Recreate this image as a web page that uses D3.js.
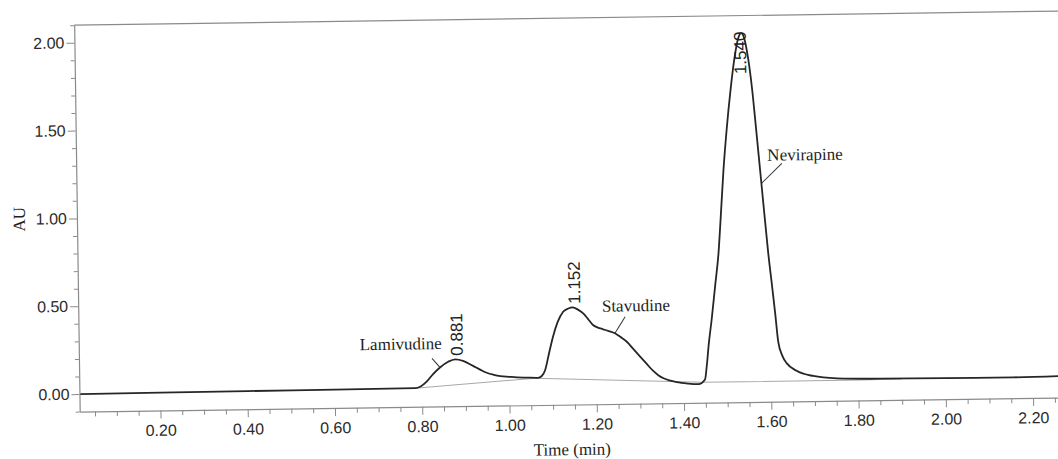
<!DOCTYPE html>
<html>
<head>
<meta charset="utf-8">
<script src="https://cdn.jsdelivr.net/npm/d3@7"></script>
<style>
  html, body { margin: 0; padding: 0; background: #fff; }
  svg { display: block; }
</style>
</head>
<body>
<div id="chart"></div>
<script>
// chromatogram trace (time in min, absorbance in AU)
const time = [
  0.017, 0.20, 0.40, 0.60, 0.784, 0.797, 0.811, 0.826, 0.842, 0.861, 0.877, 0.895,
  0.918, 0.935, 0.949, 0.965, 0.980, 1.000, 1.018, 1.040, 1.066, 1.075, 1.083, 1.092,
  1.102, 1.113, 1.126, 1.138, 1.148, 1.160, 1.172, 1.183, 1.194, 1.205, 1.217, 1.230,
  1.244, 1.257, 1.271, 1.286, 1.301, 1.316, 1.330, 1.342, 1.354, 1.370, 1.384, 1.410,
  1.434, 1.449, 1.453, 1.459, 1.466, 1.475, 1.484, 1.491, 1.498, 1.507, 1.517, 1.527,
  1.536, 1.543, 1.550, 1.558, 1.566, 1.574, 1.582, 1.590, 1.598, 1.606, 1.612, 1.618,
  1.627, 1.637, 1.659, 1.697, 1.751, 1.850, 2.000, 2.155, 2.270
];
const absorbance = [
  0.000, 0.001, 0.003, 0.004, 0.006, 0.015, 0.042, 0.085, 0.122, 0.154, 0.167, 0.158,
  0.128, 0.105, 0.088, 0.076, 0.068, 0.063, 0.059, 0.057, 0.055, 0.065, 0.099, 0.190,
  0.288, 0.370, 0.429, 0.447, 0.453, 0.440, 0.418, 0.385, 0.351, 0.336, 0.326, 0.315,
  0.302, 0.280, 0.253, 0.210, 0.167, 0.125, 0.086, 0.060, 0.042, 0.028, 0.019, 0.010,
  0.006, 0.032, 0.100, 0.240, 0.370, 0.560, 0.750, 0.980, 1.220, 1.460, 1.680, 1.860,
  1.970, 2.000, 1.970, 1.860, 1.690, 1.460, 1.220, 0.980, 0.745, 0.550, 0.400, 0.240,
  0.160, 0.117, 0.074, 0.043, 0.028, 0.022, 0.020, 0.019, 0.023
];

// integration baselines drawn under the peaks
const baselines = [
  [[0.784, 0.006], [1.060, 0.053]],
  [[1.060, 0.053], [1.442, 0.016]],
  [[1.442, 0.016], [1.804, 0.016], [1.900, 0.018]]
];

const peakTimes = [0.881, 1.152, 1.540];
const peakHeights = [0.167, 0.453, 2.000];

const compounds = ["Lamivudine", "Stavudine", "Nevirapine"];
const compoundAnchor = ["end", "start", "start"];
const compoundLabelAt = [[0.847, 0.227], [1.215, 0.426], [1.599, 1.272]];
const leaderFrom = [[0.824, 0.174], [1.268, 0.396], [1.632, 1.256]];
const leaderTo = [[0.842, 0.122], [1.244, 0.302], [1.585, 1.144]];

const xTicks = [0.20, 0.40, 0.60, 0.80, 1.00, 1.20, 1.40, 1.60, 1.80, 2.00, 2.20];
const xMinor = [0.05, 0.10, 0.15, 0.25, 0.30, 0.35, 0.45, 0.50, 0.55, 0.65, 0.70, 0.75,
  0.85, 0.90, 0.95, 1.05, 1.10, 1.15, 1.25, 1.30, 1.35, 1.45, 1.50, 1.55, 1.65, 1.70,
  1.75, 1.85, 1.90, 1.95, 2.05, 2.10, 2.15, 2.25];
const yTicks = [0.00, 0.50, 1.00, 1.50, 2.00];
const yMinor = [-0.10, 0.10, 0.20, 0.30, 0.40, 0.60, 0.70, 0.80, 0.90, 1.10, 1.20, 1.30,
  1.40, 1.60, 1.70, 1.80, 1.90, 2.10];

const W = 1058, H = 459;
const margin = { top: 18.5, left: 77 };
const width = 984;
const height = 386.5;
const sans = "'Liberation Sans', Arial, Helvetica, sans-serif";
const serif = "'Liberation Serif', 'Times New Roman', Times, serif";

const svg = d3.select("#chart")
  .append("svg")
  .attr("width", W)
  .attr("height", H);

// the original is a slightly tilted scan, so the whole figure is turned a little
const page = svg.append("g").attr("transform", "rotate(-0.82 540 220)");

const plot = page.append("g")
  .attr("transform", "translate(" + margin.left + "," + margin.top + ")");

const x = d3.scaleLinear().domain([0.015, 2.27]).range([0, width]);
const y = d3.scaleLinear().domain([-0.1, 2.1]).range([height, 0]);
const fmt = d3.format(".2f");

// frame top line
plot.append("line")
  .attr("x1", 0).attr("x2", width)
  .attr("y1", 0).attr("y2", 0)
  .attr("stroke", "#8a8a8a")
  .attr("stroke-width", 1.2);

// y axis
const yAxis = plot.append("g")
  .call(d3.axisLeft(y).tickValues(yTicks).tickSize(8).tickSizeOuter(0).tickPadding(2).tickFormat(fmt));
plot.append("g")
  .call(d3.axisLeft(y).tickValues(yMinor).tickSize(4).tickSizeOuter(0).tickFormat(""))
  .select(".domain").remove();

// x axis
const xAxis = plot.append("g")
  .attr("transform", "translate(0," + height + ")")
  .call(d3.axisBottom(x).tickValues(xTicks).tickSize(8).tickSizeOuter(0).tickPadding(6).tickFormat(fmt));
plot.append("g")
  .attr("transform", "translate(0," + height + ")")
  .call(d3.axisBottom(x).tickValues(xMinor).tickSize(5).tickSizeOuter(0).tickFormat(""))
  .select(".domain").remove();

plot.selectAll(".domain").attr("stroke", "#8a8a8a").attr("stroke-width", 1.2);
plot.selectAll(".tick line").attr("stroke", "#8a8a8a");
plot.selectAll(".tick text")
  .style("font-family", sans)
  .style("font-size", "16px")
  .attr("fill", "#2b2b2b");

// baselines
const line = d3.line().x(d => x(d[0])).y(d => y(d[1]));
plot.selectAll("path.baseline")
  .data(baselines)
  .enter()
  .append("path")
  .attr("class", "baseline")
  .attr("d", line)
  .attr("fill", "none")
  .attr("stroke", "#a8a8a8")
  .attr("stroke-width", 1);

// trace
const trace = time.map((t, i) => [t, absorbance[i]]);
plot.append("path")
  .datum(trace)
  .attr("d", line.curve(d3.curveMonotoneX))
  .attr("fill", "none")
  .attr("stroke", "#262626")
  .attr("stroke-width", 1.8)
  .attr("stroke-linejoin", "round");

// retention time labels above the apex
peakTimes.forEach((rt, i) => {
  const px = x(rt);
  const py = y(peakHeights[i]) - 3.5;
  const label = plot.append("text")
    .attr("dy", "0.35em")
    .style("font-family", sans)
    .style("font-size", "17px")
    .attr("fill", "#222")
    .text(rt.toFixed(3));
  const len = label.node().getComputedTextLength();
  if (py - len < 16) {
    label.attr("text-anchor", "end")
      .attr("transform", "translate(" + px + ",16) rotate(-90)");
  } else {
    label.attr("text-anchor", "start")
      .attr("transform", "translate(" + px + "," + py + ") rotate(-90)");
  }
});

// compound names with leader lines
compounds.forEach((name, i) => {
  plot.append("line")
    .attr("x1", x(leaderFrom[i][0])).attr("y1", y(leaderFrom[i][1]))
    .attr("x2", x(leaderTo[i][0])).attr("y2", y(leaderTo[i][1]))
    .attr("stroke", "#333")
    .attr("stroke-width", 1);
  plot.append("text")
    .attr("x", x(compoundLabelAt[i][0]))
    .attr("y", y(compoundLabelAt[i][1]))
    .attr("text-anchor", compoundAnchor[i])
    .style("font-family", serif)
    .style("font-size", "17px")
    .attr("fill", "#1e1e1e")
    .text(name);
});

// axis titles
page.append("text")
  .attr("transform", "translate(25," + (margin.top + height / 2) + ") rotate(-90)")
  .attr("text-anchor", "middle")
  .style("font-family", serif)
  .style("font-size", "17px")
  .attr("fill", "#1e1e1e")
  .text("AU");

page.append("text")
  .attr("x", 569)
  .attr("y", 455.5)
  .attr("text-anchor", "middle")
  .style("font-family", serif)
  .style("font-size", "17px")
  .attr("fill", "#1e1e1e")
  .text("Time (min)");
</script>
</body>
</html>
